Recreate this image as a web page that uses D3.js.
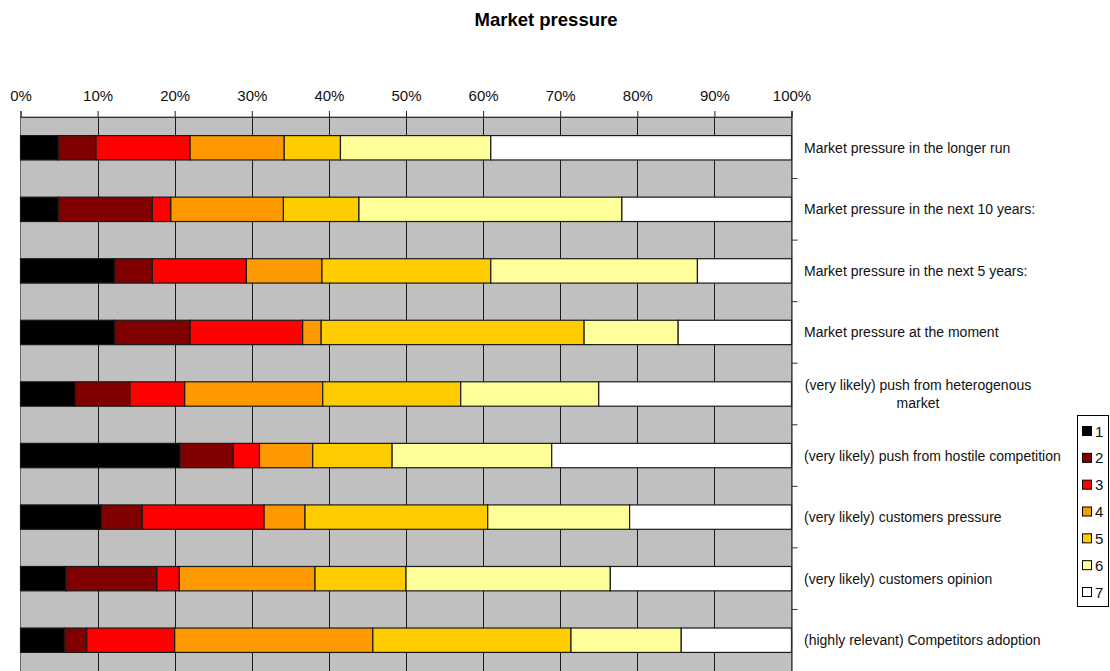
<!DOCTYPE html>
<html>
<head>
<meta charset="utf-8">
<script src="https://cdn.jsdelivr.net/npm/d3@7"></script>
<style>
  html, body { margin: 0; padding: 0; background: #fff; }
  svg { display: block; font-family: "Liberation Sans", Arial, sans-serif; }
</style>
</head>
<body>
<svg id="chart" width="1110" height="671"></svg>
<script>
// Questions, top to bottom
const categories = [
  "Market pressure in the longer run",
  "Market pressure in the next 10 years:",
  "Market pressure in the next 5 years:",
  "Market pressure at the moment",
  "(very likely) push from heterogenous market",
  "(very likely) push from hostile competition",
  "(very likely) customers pressure",
  "(very likely) customers opinion",
  "(highly relevant) Competitors adoption"
];

// Answer scale 1..7
const seriesNames = ["1", "2", "3", "4", "5", "6", "7"];
const seriesColors = ["#000000", "#800000", "#ff0000", "#ff9900", "#ffcc00", "#ffff99", "#ffffff"];

// Share of answers (%) per question, one array per answer level
const s1 = [4.9, 4.9, 12.2, 12.2, 7.1, 20.7, 10.5, 5.9, 5.7];
const s2 = [4.9, 12.2, 4.9, 9.8, 7.1, 6.9, 5.3, 11.8, 2.9];
const s3 = [12.2, 2.4, 12.2, 14.6, 7.1, 3.4, 15.8, 2.9, 11.4];
const s4 = [12.2, 14.6, 9.8, 2.4, 17.9, 6.9, 5.3, 17.6, 25.7];
const s5 = [7.3, 9.8, 21.9, 34.1, 17.9, 10.3, 23.7, 11.8, 25.7];
const s6 = [19.5, 34.1, 26.8, 12.2, 17.9, 20.7, 18.4, 26.5, 14.3];
const s7 = [39.0, 22.0, 12.2, 14.7, 25.0, 31.1, 21.0, 23.5, 14.3];

const tickValues = [0, 10, 20, 30, 40, 50, 60, 70, 80, 90, 100];

const seriesValues = [s1, s2, s3, s4, s5, s6, s7];
const rows = categories.map((c, i) => {
  const r = { category: c };
  seriesNames.forEach((s, k) => { r[s] = seriesValues[k][i]; });
  return r;
});

const svg = d3.select("#chart");
const plot = { left: 20.5, right: 791.5, top: 117, bottom: 671 };

const x = d3.scaleLinear().domain([0, 100]).range([plot.left, plot.right]);
const y = d3.scaleBand().domain(categories)
  .range([plot.top, plot.bottom])
  .paddingInner(0.604).paddingOuter(0.302);

// Title
svg.append("text")
  .attr("x", 546).attr("y", 25.5)
  .attr("text-anchor", "middle")
  .style("font-size", "18.5px").style("font-weight", "bold")
  .attr("fill", "#000")
  .text("Market pressure");

// Plot background
svg.append("rect")
  .attr("x", plot.left).attr("y", plot.top)
  .attr("width", plot.right - plot.left).attr("height", plot.bottom - plot.top + 5)
  .attr("fill", "#c0c0c0").attr("stroke", "#6a6a6a").attr("stroke-width", 1);

// Vertical gridlines
svg.append("g")
  .selectAll("line")
  .data(tickValues.slice(1, -1))
  .join("line")
  .attr("x1", d => Math.round(x(d)) + 0.5).attr("x2", d => Math.round(x(d)) + 0.5)
  .attr("y1", plot.top).attr("y2", plot.bottom + 5)
  .attr("stroke", "#1a1a1a").attr("stroke-width", 1);

// Top axis
const xAxis = d3.axisTop(x)
  .tickValues(tickValues)
  .tickFormat(d => d + "%")
  .tickSize(6)
  .tickPadding(10);
const gx = svg.append("g")
  .attr("transform", `translate(0,${plot.top})`)
  .call(xAxis);
gx.select(".domain").attr("stroke", "#333");
gx.selectAll(".tick line").attr("stroke", "#222");
gx.selectAll(".tick text")
  .attr("fill", "#111")
  .style("font-size", "15px")
  .style("font-family", "Liberation Sans, Arial, sans-serif");

// Stacked bars
const stack = d3.stack().keys(seriesNames);
const layers = stack(rows);

svg.append("g")
  .selectAll("g")
  .data(layers)
  .join("g")
  .attr("fill", (d, i) => seriesColors[i])
  .selectAll("rect")
  .data(d => d)
  .join("rect")
  .attr("x", d => x(d[0]))
  .attr("y", d => y(d.data.category))
  .attr("width", d => x(d[1]) - x(d[0]))
  .attr("height", y.bandwidth())
  .attr("stroke", "#1a1a1a")
  .attr("stroke-width", 1.2);

// Right axis with category labels
const boundaries = categories.slice(1).map(c => y(c) - (y.step() - y.bandwidth()) / 2);
svg.append("line")
  .attr("x1", plot.right + 0.5).attr("x2", plot.right + 0.5)
  .attr("y1", plot.top - 6).attr("y2", plot.bottom + 5)
  .attr("stroke", "#333").attr("stroke-width", 1.2);
svg.append("g")
  .selectAll("line")
  .data(boundaries)
  .join("line")
  .attr("x1", plot.right).attr("x2", plot.right + 6)
  .attr("y1", d => d).attr("y2", d => d)
  .attr("stroke", "#333");

const labelG = svg.append("g")
  .style("font-size", "14px").attr("fill", "#111");
categories.forEach(c => {
  const cy = y(c) + y.bandwidth() / 2;
  if (c === "(very likely) push from heterogenous market") {
    const t = labelG.append("text").attr("text-anchor", "middle");
    t.append("tspan").attr("x", 918).attr("y", cy - 4).text("(very likely) push from heterogenous");
    t.append("tspan").attr("x", 918).attr("y", cy + 14).text("market");
  } else {
    labelG.append("text").attr("x", 804).attr("y", cy + 5).text(c);
  }
});

// Legend
const legend = svg.append("g");
legend.append("rect")
  .attr("x", 1077.5).attr("y", 415.5).attr("width", 31).attr("height", 191)
  .attr("fill", "#fff").attr("stroke", "#000");
const ly = d3.scalePoint().domain(seriesNames).range([431, 592]);
legend.selectAll("rect.sw")
  .data(seriesNames)
  .join("rect")
  .attr("class", "sw")
  .attr("x", 1082.5).attr("y", d => ly(d) - 4.5)
  .attr("width", 9).attr("height", 9)
  .attr("fill", (d, i) => seriesColors[i])
  .attr("stroke", "#000");
legend.selectAll("text")
  .data(seriesNames)
  .join("text")
  .attr("x", 1095).attr("y", d => ly(d) + 5.5)
  .style("font-size", "15px").attr("fill", "#111")
  .text(d => d);
</script>
</body>
</html>
